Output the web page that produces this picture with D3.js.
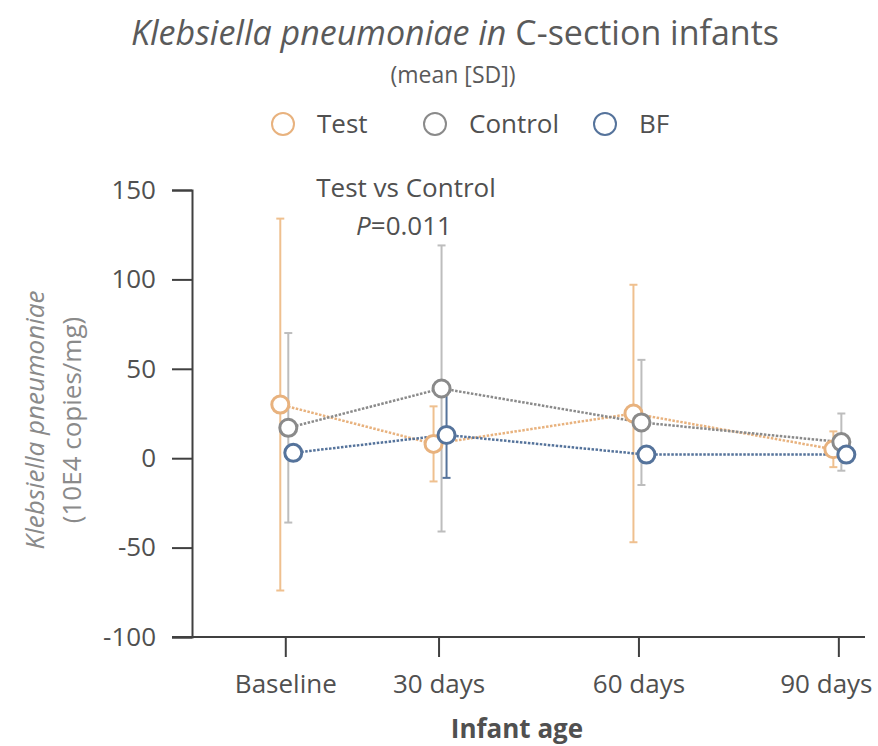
<!DOCTYPE html>
<html>
<head>
<meta charset="utf-8">
<script src="https://cdn.jsdelivr.net/npm/d3@7"></script>
<style>
  html, body { margin: 0; padding: 0; background: #fff; }
  svg { display: block; font-family: "Open Sans", sans-serif; }
</style>
</head>
<body>
<svg id="chart" width="878" height="746"></svg>
<script>
// ---- data ----
const categories = ["Baseline", "30 days", "60 days", "90 days"];
const categoryDays = [7, 30, 60, 90];
const seriesNames = ["Test", "Control", "BF"];
const testMean = [30, 8, 25, 5];
const testSD = [104, 21, 72, 10];
const controlMean = [17, 39, 20, 9];
const controlSD = [53, 80, 35, 16];
const bfMean = [3, 13, 2, 2];
const bfSD = [2, 24, 2, 2];
const yTicks = [-100, -50, 0, 50, 100, 150];

const series = [
  { name: seriesNames[0], mean: testMean, sd: testSD, color: "#E8B27E", errColor: "#EFC08F", offset: -5 },
  { name: seriesNames[1], mean: controlMean, sd: controlSD, color: "#8A8A8A", errColor: "#BDBDBD", offset: 3 },
  { name: seriesNames[2], mean: bfMean, sd: bfSD, color: "#55739B", errColor: "#55739B", offset: 8 }
];

const svg = d3.select("#chart");
const x = d3.scaleLinear().domain([-7, 94]).range([192, 865]);
const y = d3.scaleLinear().domain([-100, 150]).range([637, 190]);
const textColor = "#505050";

// title
const title = svg.append("text").attr("x", 455).attr("y", 45)
  .attr("text-anchor", "middle").attr("font-size", 34).attr("fill", "#5a5a5a");
title.append("tspan").attr("font-style", "italic").text("Klebsiella pneumoniae in");
title.append("tspan").text(" C-section infants");

svg.append("text").attr("x", 453).attr("y", 83).attr("text-anchor", "middle")
  .attr("font-size", 23).attr("fill", "#5a5a5a").text("(mean [SD])");

// legend
const legendX = [283, 435, 605];
series.forEach((s, i) => {
  svg.append("circle").attr("cx", legendX[i]).attr("cy", 124).attr("r", 11)
    .attr("fill", "#fff").attr("stroke", s.color).attr("stroke-width", 2);
  svg.append("text").attr("x", legendX[i] + 34).attr("y", 133)
    .attr("font-size", 26).attr("fill", textColor).text(s.name);
});

// y axis
const yAxis = d3.axisLeft(y).tickValues(yTicks).tickSize(20).tickPadding(16).tickFormat(d => String(d));
const gy = svg.append("g").attr("transform", "translate(192,0)").call(yAxis);
gy.select(".domain").attr("stroke", "#404040").attr("stroke-width", 2);
gy.selectAll(".tick line").attr("stroke", "#404040").attr("stroke-width", 2);
gy.selectAll(".tick text").attr("font-size", 26).attr("fill", textColor).attr("font-family", "Open Sans");

// x axis
const xAxis = d3.axisBottom(x).tickValues(categoryDays).tickSize(20).tickPadding(18)
  .tickFormat((d, i) => categories[i]);
const gx = svg.append("g").attr("transform", "translate(0,637)").call(xAxis);
gx.select(".domain").attr("d", "M172,0H865").attr("stroke", "#404040").attr("stroke-width", 2);
gx.selectAll(".tick line").attr("stroke", "#404040").attr("stroke-width", 2);
gx.selectAll(".tick text").attr("font-size", 26).attr("fill", textColor).attr("font-family", "Open Sans");
// keep the last label inside the frame
gx.selectAll(".tick text").filter((d, i, n) => i === n.length - 1)
  .attr("text-anchor", "end").attr("x", 872 - x(categoryDays[categoryDays.length - 1]));

// axis titles
svg.append("text").attr("x", 517).attr("y", 738).attr("text-anchor", "middle")
  .attr("font-size", 26).attr("font-weight", "bold").attr("fill", textColor).text("Infant age");

const yl = svg.append("text").attr("transform", "translate(0,420) rotate(-90)")
  .attr("text-anchor", "middle").attr("font-size", 26).attr("fill", "#8a8a8a");
yl.append("tspan").attr("x", 0).attr("y", 44).attr("font-style", "italic").text("Klebsiella pneumoniae");
yl.append("tspan").attr("x", 0).attr("y", 81).text("(10E4 copies/mg)");

// annotation
svg.append("text").attr("x", 406).attr("y", 197).attr("text-anchor", "middle")
  .attr("font-size", 26).attr("fill", textColor).text("Test vs Control");
const pt = svg.append("text").attr("x", 404).attr("y", 235).attr("text-anchor", "middle")
  .attr("font-size", 26).attr("fill", textColor);
pt.append("tspan").attr("font-style", "italic").text("P");
pt.append("tspan").text("=0.011");

// error bars
const plot = svg.append("g");
series.forEach(s => {
  const g = plot.append("g");
  categoryDays.forEach((d, i) => {
    const cx = x(d) + s.offset;
    const top = y(s.mean[i] + s.sd[i]);
    const bot = y(s.mean[i] - s.sd[i]);
    g.append("line").attr("x1", cx).attr("x2", cx).attr("y1", top).attr("y2", bot)
      .attr("stroke", s.errColor).attr("stroke-width", 2);
    [top, bot].forEach(v => g.append("line").attr("x1", cx - 4).attr("x2", cx + 4)
      .attr("y1", v).attr("y2", v).attr("stroke", s.errColor).attr("stroke-width", 2));
  });
});

// dotted lines
series.forEach(s => {
  const line = d3.line().x((d, i) => x(categoryDays[i]) + s.offset).y(d => y(d));
  plot.append("path").datum(s.mean).attr("d", line).attr("fill", "none")
    .attr("stroke", s.color).attr("stroke-width", 2.5).attr("stroke-dasharray", "2.5,1.5");
});

// markers
series.forEach(s => {
  plot.append("g").selectAll("circle").data(s.mean).join("circle")
    .attr("cx", (d, i) => x(categoryDays[i]) + s.offset).attr("cy", d => y(d))
    .attr("r", 8.5).attr("fill", "#fff").attr("stroke", s.color).attr("stroke-width", 3);
});
</script>
</body>
</html>
